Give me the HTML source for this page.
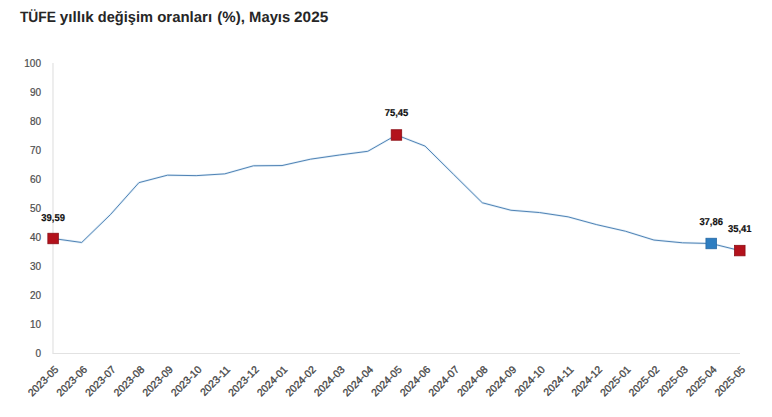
<!DOCTYPE html><html><head><meta charset="utf-8"><title>TÜFE yıllık değişim oranları</title><style>
html,body{margin:0;padding:0;background:#fff;width:772px;height:417px;overflow:hidden}
svg{display:block}
.t{font-family:"Liberation Sans",Arial,sans-serif;font-weight:bold;fill:#262626;text-rendering:geometricPrecision}
.yl{font-family:"Liberation Sans",Arial,sans-serif;fill:#4d4d4d;stroke:#4d4d4d;stroke-width:0.2}
.xl{font-family:"Liberation Sans",Arial,sans-serif;fill:#444;stroke:#444;stroke-width:0.3}
.dl{font-family:"Liberation Sans",Arial,sans-serif;font-weight:bold;fill:#111;stroke:#111;stroke-width:0.2;text-rendering:geometricPrecision}
</style></head><body>
<svg width="772" height="417" viewBox="0 0 772 417">
<rect width="772" height="417" fill="#fff"/>
<text class="t" y="21.7" font-size="15"><tspan x="19.90" textLength="36.00" lengthAdjust="spacingAndGlyphs">TÜFE</tspan> <tspan x="59.80" textLength="33.80" lengthAdjust="spacingAndGlyphs">yıllık</tspan> <tspan x="97.80" textLength="55.10" lengthAdjust="spacingAndGlyphs">değişim</tspan> <tspan x="157.20" textLength="54.90" lengthAdjust="spacingAndGlyphs">oranları</tspan> <tspan x="217.20" textLength="27.70" lengthAdjust="spacingAndGlyphs">(%),</tspan> <tspan x="249.10" textLength="41.10" lengthAdjust="spacingAndGlyphs">Mayıs</tspan> <tspan x="294.10" textLength="34.10" lengthAdjust="spacingAndGlyphs">2025</tspan></text>
<line x1="53" y1="63" x2="53" y2="353.5" stroke="#e2e2e2" stroke-width="1.2"/>
<line x1="52.5" y1="353.5" x2="740" y2="353.5" stroke="#e2e2e2" stroke-width="1"/>
<text class="yl" x="41" y="356.70" font-size="10" text-anchor="end">0</text>
<text class="yl" x="41" y="327.71" font-size="10" text-anchor="end">10</text>
<text class="yl" x="41" y="298.72" font-size="10" text-anchor="end">20</text>
<text class="yl" x="41" y="269.73" font-size="10" text-anchor="end">30</text>
<text class="yl" x="41" y="240.74" font-size="10" text-anchor="end">40</text>
<text class="yl" x="41" y="211.75" font-size="10" text-anchor="end">50</text>
<text class="yl" x="41" y="182.76" font-size="10" text-anchor="end">60</text>
<text class="yl" x="41" y="153.77" font-size="10" text-anchor="end">70</text>
<text class="yl" x="41" y="124.78" font-size="10" text-anchor="end">80</text>
<text class="yl" x="41" y="95.79" font-size="10" text-anchor="end">90</text>
<text class="yl" x="41" y="66.80" font-size="10" text-anchor="end">100</text>
<text class="xl" font-size="10.4" text-anchor="end" transform="translate(59.20,370.10) rotate(-45)">2023-05</text>
<text class="xl" font-size="10.4" text-anchor="end" transform="translate(87.81,370.10) rotate(-45)">2023-06</text>
<text class="xl" font-size="10.4" text-anchor="end" transform="translate(116.42,370.10) rotate(-45)">2023-07</text>
<text class="xl" font-size="10.4" text-anchor="end" transform="translate(145.04,370.10) rotate(-45)">2023-08</text>
<text class="xl" font-size="10.4" text-anchor="end" transform="translate(173.65,370.10) rotate(-45)">2023-09</text>
<text class="xl" font-size="10.4" text-anchor="end" transform="translate(202.26,370.10) rotate(-45)">2023-10</text>
<text class="xl" font-size="10.4" text-anchor="end" transform="translate(230.87,370.10) rotate(-45)">2023-11</text>
<text class="xl" font-size="10.4" text-anchor="end" transform="translate(259.49,370.10) rotate(-45)">2023-12</text>
<text class="xl" font-size="10.4" text-anchor="end" transform="translate(288.10,370.10) rotate(-45)">2024-01</text>
<text class="xl" font-size="10.4" text-anchor="end" transform="translate(316.71,370.10) rotate(-45)">2024-02</text>
<text class="xl" font-size="10.4" text-anchor="end" transform="translate(345.33,370.10) rotate(-45)">2024-03</text>
<text class="xl" font-size="10.4" text-anchor="end" transform="translate(373.94,370.10) rotate(-45)">2024-04</text>
<text class="xl" font-size="10.4" text-anchor="end" transform="translate(402.55,370.10) rotate(-45)">2024-05</text>
<text class="xl" font-size="10.4" text-anchor="end" transform="translate(431.16,370.10) rotate(-45)">2024-06</text>
<text class="xl" font-size="10.4" text-anchor="end" transform="translate(459.77,370.10) rotate(-45)">2024-07</text>
<text class="xl" font-size="10.4" text-anchor="end" transform="translate(488.39,370.10) rotate(-45)">2024-08</text>
<text class="xl" font-size="10.4" text-anchor="end" transform="translate(517.00,370.10) rotate(-45)">2024-09</text>
<text class="xl" font-size="10.4" text-anchor="end" transform="translate(545.61,370.10) rotate(-45)">2024-10</text>
<text class="xl" font-size="10.4" text-anchor="end" transform="translate(574.23,370.10) rotate(-45)">2024-11</text>
<text class="xl" font-size="10.4" text-anchor="end" transform="translate(602.84,370.10) rotate(-45)">2024-12</text>
<text class="xl" font-size="10.4" text-anchor="end" transform="translate(631.45,370.10) rotate(-45)">2025-01</text>
<text class="xl" font-size="10.4" text-anchor="end" transform="translate(660.06,370.10) rotate(-45)">2025-02</text>
<text class="xl" font-size="10.4" text-anchor="end" transform="translate(688.67,370.10) rotate(-45)">2025-03</text>
<text class="xl" font-size="10.4" text-anchor="end" transform="translate(717.29,370.10) rotate(-45)">2025-04</text>
<text class="xl" font-size="10.4" text-anchor="end" transform="translate(745.90,370.10) rotate(-45)">2025-05</text>
<polyline points="53.10,238.50 81.71,242.49 110.32,214.71 138.94,182.64 167.55,175.16 196.16,175.65 224.77,173.86 253.39,165.81 282.00,165.55 310.61,159.17 339.23,155.04 367.84,151.29 396.45,134.98 425.06,146.09 453.67,174.44 482.29,202.76 510.90,210.24 539.51,212.55 568.12,216.85 596.74,224.67 625.35,231.20 653.96,240.06 682.57,242.81 711.19,243.50 739.80,250.57" fill="none" stroke="#e3eff8" stroke-width="2.4" stroke-linejoin="round"/>
<polyline points="53.10,238.50 81.71,242.49 110.32,214.71 138.94,182.64 167.55,175.16 196.16,175.65 224.77,173.86 253.39,165.81 282.00,165.55 310.61,159.17 339.23,155.04 367.84,151.29 396.45,134.98 425.06,146.09 453.67,174.44 482.29,202.76 510.90,210.24 539.51,212.55 568.12,216.85 596.74,224.67 625.35,231.20 653.96,240.06 682.57,242.81 711.19,243.50 739.80,250.57" fill="none" stroke="#5083b5" stroke-width="1.0" stroke-linejoin="round"/>
<rect x="47.85" y="233.25" width="10.5" height="10.5" fill="#b3121c" stroke="#8c0d14" stroke-width="0.8"/>
<rect x="391.20" y="129.73" width="10.5" height="10.5" fill="#b3121c" stroke="#8c0d14" stroke-width="0.8"/>
<rect x="705.94" y="238.25" width="10.5" height="10.5" fill="#2e7ec1" stroke="#2668a3" stroke-width="0.8"/>
<rect x="734.55" y="245.32" width="10.5" height="10.5" fill="#b3121c" stroke="#8c0d14" stroke-width="0.8"/>
<text class="dl" x="53.10" y="220.50" font-size="10" text-anchor="middle" textLength="23.6" lengthAdjust="spacingAndGlyphs">39,59</text>
<text class="dl" x="396.45" y="116.20" font-size="10" text-anchor="middle" textLength="23.6" lengthAdjust="spacingAndGlyphs">75,45</text>
<text class="dl" x="711.19" y="224.90" font-size="10" text-anchor="middle" textLength="23.6" lengthAdjust="spacingAndGlyphs">37,86</text>
<text class="dl" x="739.80" y="231.60" font-size="10" text-anchor="middle" textLength="23.6" lengthAdjust="spacingAndGlyphs">35,41</text>
</svg></body></html>
